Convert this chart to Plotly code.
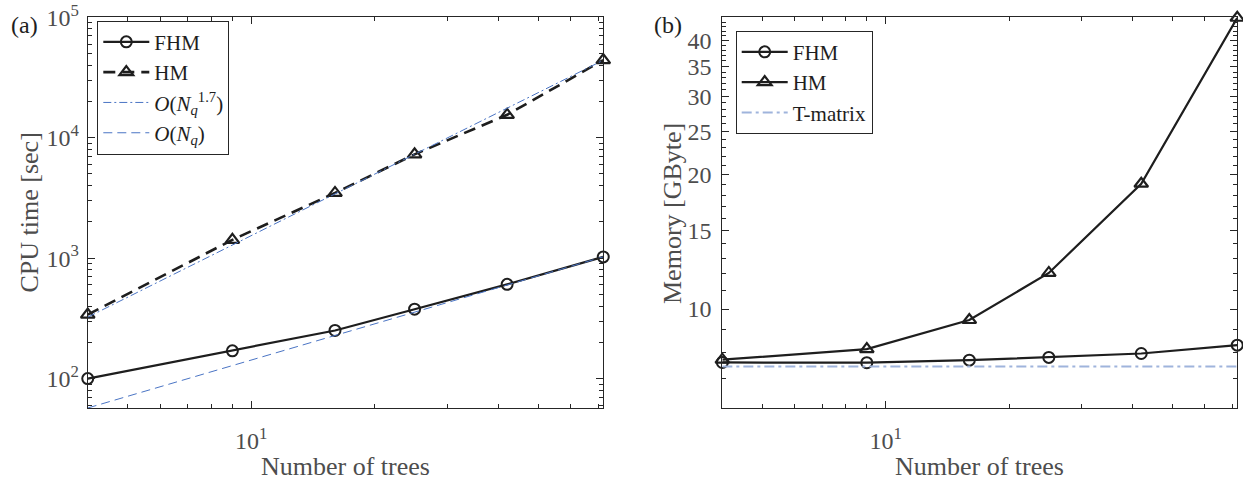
import math
import plotly.graph_objects as go

# ---- data ----
n_trees = [4, 9, 16, 25, 42, 72]

cpu_fhm = [100, 170, 251, 377, 606, 1025]
cpu_hm = [340, 1420, 3480, 7280, 15500, 44100]

# reference scaling lines (end points on the log-log axes)
ref_x = [4, 72]
ref_n17 = [324, 44000]
ref_n1 = [57, 1026]

mem_fhm = [7.59, 7.58, 7.68, 7.79, 7.95, 8.30]
mem_hm = [7.70, 8.13, 9.45, 12.05, 19.1, 45.0]
tmatrix_mem = [7.43, 7.43]

cpu_major = [1e2, 1e3, 1e4, 1e5]
cpu_major_text = ["10<sup>2</sup>", "10<sup>3</sup>", "10<sup>4</sup>", "10<sup>5</sup>"]
mem_major = [10, 15, 20, 25, 30, 35, 40]
x_major = [10]
x_major_text = ["10<sup>1</sup>"]

# ---- style ----
FONT = "Liberation Serif"
AX = "#262626"
TXT = "#4d4d4d"
BLK = "#1e1e1e"
BLUE = "#4a74c4"
LBLUE = "#9fb4dc"
TICK_SIZE = 24
LABEL_SIZE = 26
LEGEND_SIZE = 21

fig = go.Figure()

# (a) CPU time
fig.add_trace(go.Scatter(
    x=n_trees, y=cpu_fhm, name="FHM", mode="lines+markers", cliponaxis=False,
    line=dict(color=BLK, width=2.2),
    marker=dict(symbol="circle-open", size=11, color=BLK, line=dict(width=2)),
    xaxis="x", yaxis="y", legend="legend"))
fig.add_trace(go.Scatter(
    x=n_trees, y=cpu_hm, name="HM", mode="lines+markers", cliponaxis=False,
    line=dict(color=BLK, width=2.6, dash="12px,7px"),
    marker=dict(symbol="triangle-up-open", size=12, color=BLK, line=dict(width=2.2)),
    xaxis="x", yaxis="y", legend="legend"))
fig.add_trace(go.Scatter(
    x=ref_x, y=ref_n17, name="<i>O</i>(<i>N</i><sub><i>q</i></sub><sup>1.7</sup>)",
    mode="lines", line=dict(color=BLUE, width=1, dash="8px,3px,2px,3px"),
    xaxis="x", yaxis="y", legend="legend"))
fig.add_trace(go.Scatter(
    x=ref_x, y=ref_n1, name="<i>O</i>(<i>N</i><sub><i>q</i></sub>)",
    mode="lines", line=dict(color=BLUE, width=1, dash="9px,5px"),
    xaxis="x", yaxis="y", legend="legend"))

# (b) memory
fig.add_trace(go.Scatter(
    x=n_trees, y=mem_fhm, name="FHM", mode="lines+markers", cliponaxis=False,
    line=dict(color=BLK, width=2.2),
    marker=dict(symbol="circle-open", size=11, color=BLK, line=dict(width=2)),
    xaxis="x2", yaxis="y2", legend="legend2"))
fig.add_trace(go.Scatter(
    x=n_trees, y=mem_hm, name="HM", mode="lines+markers", cliponaxis=False,
    line=dict(color=BLK, width=2.2),
    marker=dict(symbol="triangle-up-open", size=12, color=BLK, line=dict(width=2.2)),
    xaxis="x2", yaxis="y2", legend="legend2"))
fig.add_trace(go.Scatter(
    x=ref_x, y=tmatrix_mem, name="T-matrix", mode="lines",
    line=dict(color=LBLUE, width=2, dash="10px,4px,3px,4px"),
    xaxis="x2", yaxis="y2", legend="legend2"))

x_minor = [5, 6, 7, 8, 9, 20, 30, 40, 50, 60, 70]
cpu_minor = [m * 10 ** k for k in range(1, 5) for m in range(2, 10)]
mem_minor = [v for v in range(6, 46) if v not in mem_major]

# x range spans the sampled tree counts (tiny pad so end markers stay visible)
x_range = [math.log10(min(n_trees)) - 1e-4, math.log10(max(n_trees)) + 1e-4]

W, H = 1243, 481


def px_x(p):
    return p / W


def px_y(p):
    return 1 - p / H


common = dict(
    type="log", showline=True, linecolor=AX, linewidth=1, mirror="allticks",
    ticks="inside", ticklen=7, tickwidth=1, tickcolor=AX, showgrid=False,
    zeroline=False, automargin=False,
    tickfont=dict(family=FONT, size=TICK_SIZE, color=TXT),
)
minor_style = dict(ticks="inside", ticklen=4, tickwidth=1, tickcolor=AX, showgrid=False)

ydom = [px_y(408), px_y(17.3)]

legend_common = dict(xanchor="left", yanchor="top", bgcolor="white",
                     bordercolor=AX, borderwidth=1, itemwidth=46, tracegroupgap=0,
                     font=dict(family=FONT, size=LEGEND_SIZE, color=BLK))

fig.update_layout(
    width=W, height=H,
    margin=dict(l=0, r=0, t=0, b=0, pad=0, autoexpand=False),
    paper_bgcolor="white", plot_bgcolor="white",
    font=dict(family=FONT, size=TICK_SIZE, color=TXT),
    showlegend=True,
    xaxis=dict(common, domain=[px_x(87.7), px_x(603.3)], anchor="y",
               range=x_range, tickmode="array", tickvals=x_major,
               ticktext=x_major_text, ticklabelstandoff=11,
               minor=dict(minor_style, tickmode="array", tickvals=x_minor)),
    yaxis=dict(common, domain=ydom, anchor="x",
               range=[1.7559, 5.0], tickmode="array", tickvals=cpu_major,
               ticktext=cpu_major_text, ticklabelstandoff=3,
               minor=dict(minor_style, tickmode="array", tickvals=cpu_minor)),
    xaxis2=dict(common, domain=[px_x(722.3), px_x(1237.3)], anchor="y2",
                range=x_range, tickmode="array", tickvals=x_major,
                ticktext=x_major_text, ticklabelstandoff=11,
                minor=dict(minor_style, tickmode="array", tickvals=x_minor)),
    yaxis2=dict(common, domain=ydom, anchor="x2",
                range=[0.77815, 1.6542], tickmode="array", tickvals=mem_major,
                ticktext=[str(v) for v in mem_major], ticklabelstandoff=5,
                minor=dict(minor_style, tickmode="array", tickvals=mem_minor)),
    legend=dict(legend_common, x=px_x(97.3), y=px_y(20.7)),
    legend2=dict(legend_common, x=px_x(735.7), y=px_y(30.7)),
)

annotations = [
    dict(text="CPU time [sec]", x=px_x(29), y=px_y(212.5), textangle=-90),
    dict(text="Memory [GByte]", x=px_x(673), y=px_y(213), textangle=-90),
    dict(text="Number of trees", x=px_x(345.5), y=px_y(466)),
    dict(text="Number of trees", x=px_x(979.8), y=px_y(466)),
]
for a in annotations:
    fig.add_annotation(a, xref="paper", yref="paper", showarrow=False,
                       xanchor="center", yanchor="middle",
                       font=dict(family=FONT, size=LABEL_SIZE, color=TXT))

for label, xp in (("(a)", 24), ("(b)", 668)):
    fig.add_annotation(text=label, x=px_x(xp), y=px_y(25), xref="paper", yref="paper",
                       showarrow=False, xanchor="center", yanchor="middle",
                       font=dict(family=FONT, size=TICK_SIZE, color=BLK))

fig.write_html("out.html")
